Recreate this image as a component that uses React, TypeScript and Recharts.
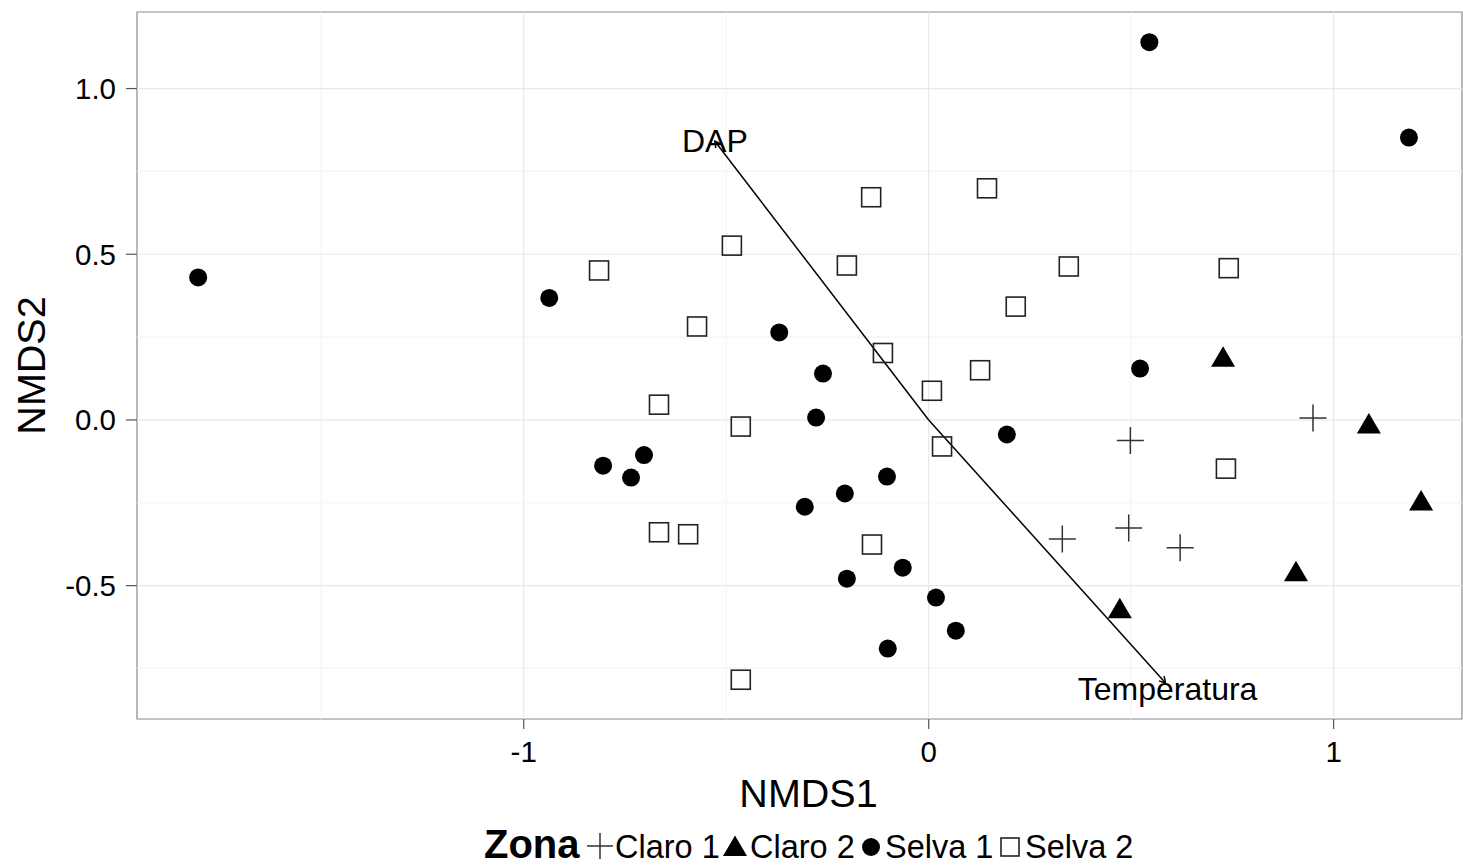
import React from 'react';
import {
  ScatterChart,
  Scatter,
  XAxis,
  YAxis,
  ReferenceLine,
  ReferenceArea,
  ReferenceDot,
  Label,
} from 'recharts';

// ---- data ----
const claro1 = [
  { x: 0.498, y: -0.062 },
  { x: 0.949, y: 0.006 },
  { x: 0.33, y: -0.359 },
  { x: 0.494, y: -0.326 },
  { x: 0.621, y: -0.386 },
];

const claro2 = [
  { x: 0.727, y: 0.191 },
  { x: 1.087, y: -0.011 },
  { x: 1.216, y: -0.243 },
  { x: 0.907, y: -0.457 },
  { x: 0.472, y: -0.568 },
];

const selva1 = [
  { x: -1.804, y: 0.43 },
  { x: -0.937, y: 0.368 },
  { x: -0.369, y: 0.264 },
  { x: -0.261, y: 0.14 },
  { x: -0.278, y: 0.007 },
  { x: -0.804, y: -0.138 },
  { x: -0.703, y: -0.106 },
  { x: -0.735, y: -0.174 },
  { x: -0.306, y: -0.262 },
  { x: -0.207, y: -0.222 },
  { x: -0.103, y: -0.171 },
  { x: -0.202, y: -0.479 },
  { x: -0.064, y: -0.446 },
  { x: 0.018, y: -0.536 },
  { x: 0.067, y: -0.636 },
  { x: -0.101, y: -0.69 },
  { x: 0.193, y: -0.044 },
  { x: 0.522, y: 0.155 },
  { x: 0.545, y: 1.14 },
  { x: 1.186, y: 0.852 },
];

const selva2 = [
  { x: -0.814, y: 0.451 },
  { x: -0.486, y: 0.526 },
  { x: -0.572, y: 0.282 },
  { x: -0.666, y: 0.046 },
  { x: -0.464, y: -0.02 },
  { x: -0.666, y: -0.339 },
  { x: -0.594, y: -0.345 },
  { x: -0.464, y: -0.784 },
  { x: -0.142, y: 0.672 },
  { x: -0.202, y: 0.466 },
  { x: -0.113, y: 0.202 },
  { x: 0.008, y: 0.088 },
  { x: 0.033, y: -0.08 },
  { x: -0.14, y: -0.376 },
  { x: 0.144, y: 0.699 },
  { x: 0.346, y: 0.463 },
  { x: 0.215, y: 0.342 },
  { x: 0.127, y: 0.15 },
  { x: 0.741, y: 0.458 },
  { x: 0.734, y: -0.147 },
];

const vectors = [
  { name: 'DAP', x: -0.528, y: 0.841, lx: -0.528, ly: 0.843 },
  { name: 'Temperatura', x: 0.585, y: -0.794, lx: 0.59, ly: -0.81 },
];

const xDomain = [-1.955, 1.317];
const yDomain = [-0.9025, 1.231];
const xTicks = [-1, 0, 1];
const yTicks = [-0.5, 0, 0.5, 1];
const xMinor = [-1.5, -0.5, 0.5];
const yMinor = [-0.75, -0.25, 0.25, 0.75];

const legendLabels = ['Claro 1', 'Claro 2', 'Selva 1', 'Selva 2'];

// ---- style ----
const FONT = '"Liberation Sans", Arial, Helvetica, sans-serif';
const W = 1463;
const H = 867;

// ---- shapes ----
const plusPath = (cx: number, cy: number, h: number) =>
  `M${cx - h},${cy}H${cx + h}M${cx},${cy - h}V${cy + h}`;

const PlusShape = (p: any) => (
  <path d={plusPath(p.cx, p.cy, 13.5)} stroke="#333" strokeWidth={1.5} fill="none" />
);
const TriShape = (p: any) => (
  <polygon
    points={`${p.cx},${p.cy - 10.5} ${p.cx + 12},${p.cy + 10} ${p.cx - 12},${p.cy + 10}`}
    fill="#000"
  />
);
const CircleShape = (p: any) => <circle cx={p.cx} cy={p.cy} r={9} fill="#000" />;
const SquareShape = (p: any) => (
  <rect
    x={p.cx - 9.5}
    y={p.cy - 9.5}
    width={19}
    height={19}
    fill="none"
    stroke="#222"
    strokeWidth={1.6}
  />
);

const ArrowShape = (p: any) => {
  const { x1, y1, x2, y2 } = p;
  const ang = Math.atan2(y2 - y1, x2 - x1);
  const len = 7;
  const a = Math.PI / 6;
  const hx1 = x2 - len * Math.cos(ang - a);
  const hy1 = y2 - len * Math.sin(ang - a);
  const hx2 = x2 - len * Math.cos(ang + a);
  const hy2 = y2 - len * Math.sin(ang + a);
  return (
    <g>
      <line x1={x1} y1={y1} x2={x2} y2={y2} stroke="#000" strokeWidth={1.5} />
      <path d={`M${hx1},${hy1}L${x2},${y2}L${hx2},${hy2}`} stroke="#000" strokeWidth={1.5} fill="none" />
    </g>
  );
};

const Legend = () => {
  const baseY = 858;
  const iconY = 846;
  return (
    <svg
      width={W}
      height={H}
      style={{ position: 'absolute', left: 0, top: 0, pointerEvents: 'none' }}
    >
      <text x={484} y={baseY} fontFamily={FONT} fontWeight="bold" fontSize={40} fill="#000">
        Zona
      </text>
      <path d={plusPath(600, iconY, 13)} stroke="#333" strokeWidth={1.5} fill="none" />
      <text x={615} y={baseY} fontFamily={FONT} fontSize={32.5} fill="#000">
        {legendLabels[0]}
      </text>
      <polygon points={`735,${iconY - 10.5} 747,${iconY + 10} 723,${iconY + 10}`} fill="#000" />
      <text x={750} y={baseY} fontFamily={FONT} fontSize={32.5} fill="#000">
        {legendLabels[1]}
      </text>
      <circle cx={871} cy={iconY + 1} r={9} fill="#000" />
      <text x={885} y={baseY} fontFamily={FONT} fontSize={32.5} fill="#000">
        {legendLabels[2]}
      </text>
      <rect x={1010 - 9} y={iconY - 8} width={18} height={18} fill="none" stroke="#222" strokeWidth={1.6} />
      <text x={1025} y={baseY} fontFamily={FONT} fontSize={32.5} fill="#000">
        {legendLabels[3]}
      </text>
    </svg>
  );
};

export default function App() {
  return (
    <div style={{ position: 'absolute', left: 0, top: 0, width: W, height: H, background: '#fff' }}>
      <ScatterChart
        width={W}
        height={H}
        margin={{ top: 12, right: 1, left: 0, bottom: 0 }}
        style={{ fontFamily: FONT }}
      >
        {xMinor.map((v) => (
          <ReferenceLine key={'xm' + v} x={v} stroke="#f4f4f4" strokeWidth={1.2} />
        ))}
        {yMinor.map((v) => (
          <ReferenceLine key={'ym' + v} y={v} stroke="#f4f4f4" strokeWidth={1.2} />
        ))}
        {xTicks.map((v) => (
          <ReferenceLine key={'xM' + v} x={v} stroke="#e8e8e8" strokeWidth={1.2} />
        ))}
        {yTicks.map((v) => (
          <ReferenceLine key={'yM' + v} y={v} stroke="#e8e8e8" strokeWidth={1.2} />
        ))}
        <XAxis
          type="number"
          dataKey="x"
          domain={xDomain}
          ticks={xTicks}
          allowDataOverflow
          height={148}
          axisLine={false}
          tickLine={{ stroke: '#555', strokeWidth: 1.2 }}
          tickSize={10}
          tickMargin={12}
          tick={{ fontSize: 29.5, fill: '#000', fontFamily: FONT }}
          tickFormatter={(v: number) => String(v)}
        >
          <Label
            content={(props: any) => {
              const vb = props.viewBox;
              return (
                <text
                  x={vb.x + vb.width / 2 + 9}
                  y={vb.y + 88}
                  textAnchor="middle"
                  fontSize={39.5}
                  fontFamily={FONT}
                  fill="#000"
                >
                  NMDS1
                </text>
              );
            }}
          />
        </XAxis>
        <YAxis
          type="number"
          dataKey="y"
          domain={yDomain}
          ticks={yTicks}
          allowDataOverflow
          width={137}
          axisLine={false}
          tickLine={{ stroke: '#555', strokeWidth: 1.2 }}
          tickSize={11}
          tickMargin={10}
          tick={{ fontSize: 29.5, fill: '#000', fontFamily: FONT }}
          tickFormatter={(v: number) => v.toFixed(1)}
        >
          <Label
            content={(props: any) => {
              const vb = props.viewBox;
              const cy = vb.y + vb.height / 2;
              return (
                <text
                  x={45}
                  y={cy}
                  transform={`rotate(-90 45 ${cy})`}
                  textAnchor="middle"
                  fontSize={39.5}
                  fontFamily={FONT}
                  fill="#000"
                >
                  NMDS2
                </text>
              );
            }}
          />
        </YAxis>
        <ReferenceArea
          x1={xDomain[0]}
          x2={xDomain[1]}
          y1={yDomain[0]}
          y2={yDomain[1]}
          fill="none"
          stroke="#8a8a8a"
          strokeWidth={1.2}
        />
        <Scatter name="Claro 1" data={claro1} shape={PlusShape} isAnimationActive={false} />
        <Scatter name="Claro 2" data={claro2} shape={TriShape} isAnimationActive={false} />
        <Scatter name="Selva 1" data={selva1} shape={CircleShape} isAnimationActive={false} />
        <Scatter name="Selva 2" data={selva2} shape={SquareShape} isAnimationActive={false} />
        {vectors.map((v) => (
          <ReferenceLine
            key={'v' + v.name}
            segment={[
              { x: 0, y: 0 },
              { x: v.x, y: v.y },
            ]}
            shape={ArrowShape}
          />
        ))}
        {vectors.map((v) => (
          <ReferenceDot key={'l' + v.name} x={v.lx} y={v.ly} r={0} fill="none" stroke="none">
            <Label value={v.name} position="center" fontSize={32} fill="#000" fontFamily={FONT} />
          </ReferenceDot>
        ))}
      </ScatterChart>
      <Legend />
    </div>
  );
}
